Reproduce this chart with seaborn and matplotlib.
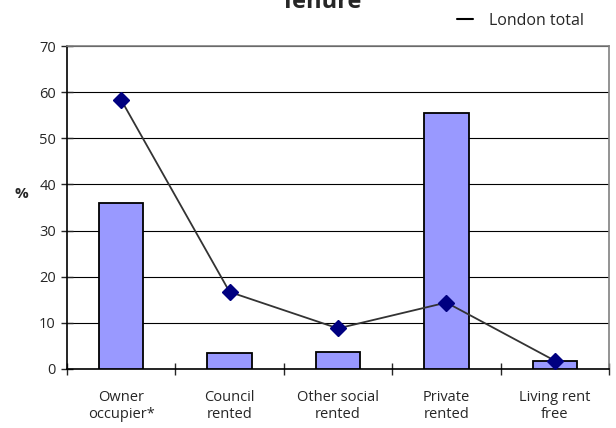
import matplotlib
matplotlib.use("Agg")
import matplotlib.pyplot as plt
from matplotlib.lines import Line2D
import seaborn as sns
import pandas as pd

categories = ["Owner\noccupier*", "Council\nrented", "Other social\nrented",
              "Private\nrented", "Living rent\nfree"]
group_pct = [35.9, 3.4, 3.6, 55.4, 1.8]
london_total = [58.3, 16.7, 8.8, 14.4, 1.8]
y_ticks = [0, 10, 20, 30, 40, 50, 60, 70]

sns.set_style("white")
plt.rcParams["font.family"] = ["Open Sans", "DejaVu Sans"]

df = pd.DataFrame({"tenure": categories, "pct": group_pct})

fig = plt.figure(figsize=(6.16, 4.28), dpi=100)
ax = fig.add_axes([67 / 616, 1 - 369 / 428, 542 / 616, 323 / 428])

sns.barplot(data=df, x="tenure", y="pct", ax=ax, color="#9999ff",
            edgecolor="black", linewidth=1.3, width=0.41, saturation=1,
            zorder=3)
for b in ax.patches:
    b.set_facecolor("#9999ff")

pos = list(range(len(categories)))
ax.plot(pos, london_total, color="#333333", lw=1.3, marker="D", ms=8,
        markerfacecolor="#000080", markeredgecolor="#000080", zorder=5)

ax.set_xlim(-0.5, len(categories) - 0.5)
ax.set_ylim(0, 70)
ax.set_yticks(y_ticks)
ax.yaxis.grid(True, color="black", lw=0.8)
ax.set_axisbelow(True)
ax.tick_params(axis="y", direction="inout", length=8, width=1, labelsize=10.5,
               pad=4, left=True)

# category boundaries as major ticks, labels on minor ticks
ax.set_xticks([p - 0.5 for p in pos] + [pos[-1] + 0.5])
ax.set_xticklabels([])
ax.set_xticks(pos, minor=True)
ax.set_xticklabels(categories, minor=True)
ax.tick_params(axis="x", which="major", direction="inout", length=8, width=1,
               bottom=True)
ax.tick_params(axis="x", which="minor", length=0, labelsize=10.5, pad=15)

ax.set_xlabel("")
ax.set_ylabel("%", fontsize=11, fontweight="bold", rotation=0)
ax.yaxis.set_label_coords(-0.085, 0.52)

for s in ["left", "bottom"]:
    ax.spines[s].set_color("black")
    ax.spines[s].set_linewidth(1.2)
for s in ["top", "right"]:
    ax.spines[s].set_color("#808080")
    ax.spines[s].set_linewidth(1.2)

fig.text(321 / 616, 1 - 8 / 428, "Tenure", ha="center", va="baseline",
         fontsize=17, fontweight="bold")

handle = Line2D([], [], color="black", lw=1.5)
fig.legend([handle], ["London total"], loc="center left",
           bbox_to_anchor=(457 / 616, 1 - 21 / 428), frameon=False,
           fontsize=11.5, handlelength=1.0, handletextpad=1.0,
           borderaxespad=0, borderpad=0)

fig.savefig("out.png", dpi=100)
